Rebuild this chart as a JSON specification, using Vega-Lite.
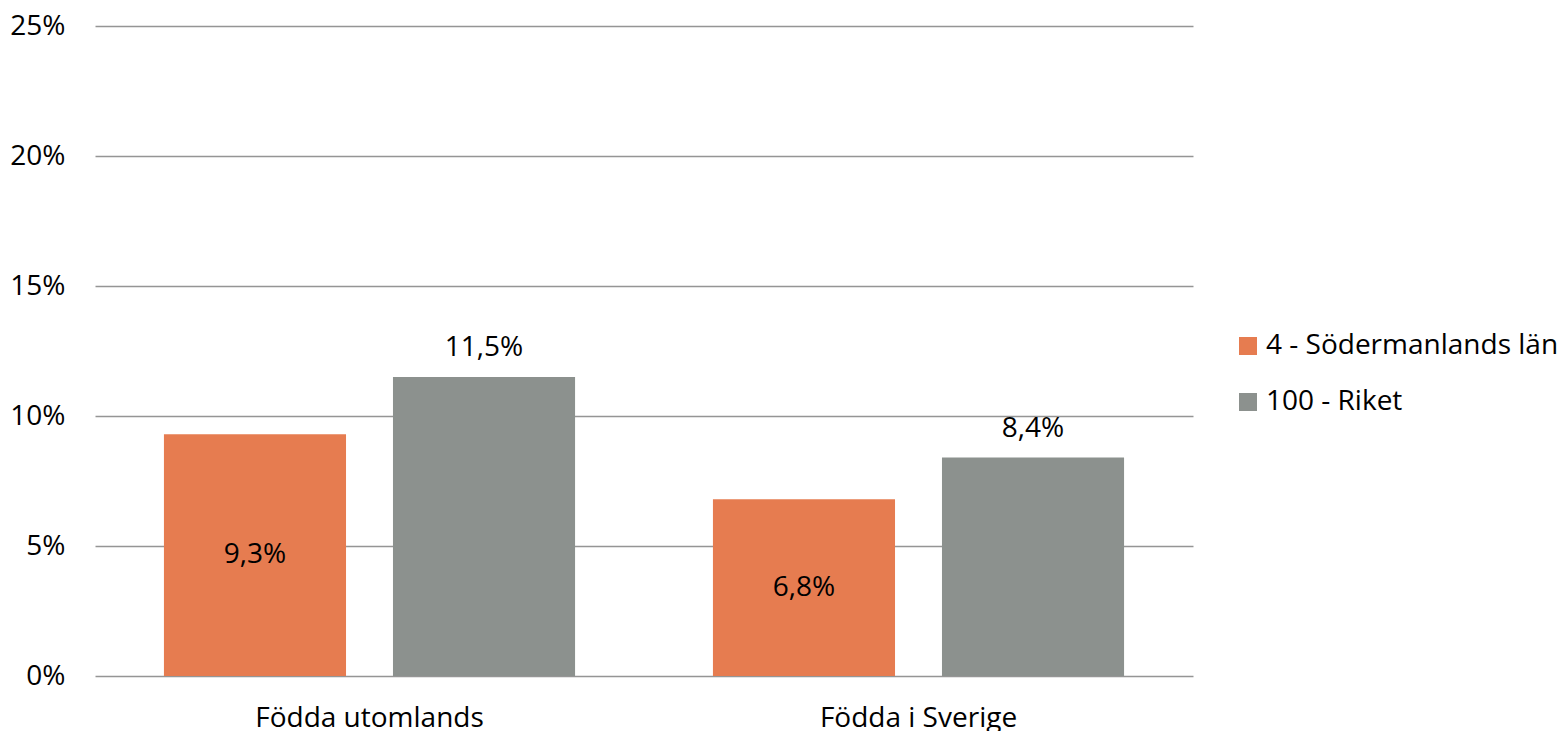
{
  "$schema": "https://vega.github.io/schema/vega-lite/v6.json",
  "autosize": {"type": "none"},
  "width": 1098,
  "height": 676,
  "padding": {"left": 95, "top": 0, "right": 365, "bottom": 55},
  "background": "white",
  "config": {
    "locale": {"number": {"decimal": ",", "thousands": " ", "grouping": [3], "currency": ["", " kr"]}},
    "font": "Open Sans",
    "view": {"stroke": null}
  },
  "data": {
    "values": [
      {"grupp": "Födda utomlands", "serie": "4 - Södermanlands län", "value": 0.093},
      {"grupp": "Födda utomlands", "serie": "100 - Riket", "value": 0.115},
      {"grupp": "Födda i Sverige", "serie": "4 - Södermanlands län", "value": 0.068},
      {"grupp": "Födda i Sverige", "serie": "100 - Riket", "value": 0.084}
    ]
  },
  "encoding": {
    "x": {
      "field": "grupp", "type": "nominal", "sort": ["Födda utomlands", "Födda i Sverige"],
      "scale": {"paddingInner": 0, "paddingOuter": 0},
      "axis": {"title": null, "labelAngle": 0, "labelFontSize": 28, "labelLimit": 500, "labelColor": "#000000", "labelPadding": 28, "ticks": false, "domain": false, "grid": false}
    },
    "xOffset": {
      "field": "serie", "type": "nominal", "sort": ["4 - Södermanlands län", "100 - Riket"],
      "scale": {"paddingInner": 0.205, "paddingOuter": 0.301}
    }
  },
  "layer": [
    {
      "mark": {"type": "bar"},
      "encoding": {
        "y": {
          "field": "value", "type": "quantitative",
          "scale": {"domain": [0, 0.25]},
          "axis": {"title": null, "format": ".0%", "values": [0, 0.05, 0.1, 0.15, 0.2, 0.25], "labelFontSize": 28, "labelColor": "#000000", "labelPadding": 30, "ticks": false, "domain": false, "grid": true, "gridColor": "#959595", "gridWidth": 1.6}
        },
        "color": {
          "field": "serie", "type": "nominal", "sort": ["4 - Södermanlands län", "100 - Riket"],
          "scale": {"domain": ["4 - Södermanlands län", "100 - Riket"], "range": ["#E67C50", "#8C918E"]},
          "legend": {"title": null, "orient": "none", "legendX": 1139, "legendY": 332, "symbolType": "square", "symbolSize": 324, "symbolStrokeWidth": 0, "symbolOpacity": 1, "labelFontSize": 28, "labelColor": "#000000", "labelLimit": 400, "rowPadding": 28, "labelOffset": 4}
        }
      }
    },
    {
      "transform": [{"filter": "datum.serie === '4 - Södermanlands län'"}, {"calculate": "datum.value / 2", "as": "mid"}],
      "mark": {"type": "text", "fontSize": 28, "color": "#000000", "baseline": "middle"},
      "encoding": {
        "y": {"field": "mid", "type": "quantitative"},
        "text": {"field": "value", "type": "quantitative", "format": ".1%"}
      }
    },
    {
      "transform": [{"filter": "datum.serie === '100 - Riket'"}],
      "mark": {"type": "text", "fontSize": 28, "color": "#000000", "baseline": "middle", "dy": -29},
      "encoding": {
        "y": {"field": "value", "type": "quantitative"},
        "text": {"field": "value", "type": "quantitative", "format": ".1%"}
      }
    }
  ]
}
